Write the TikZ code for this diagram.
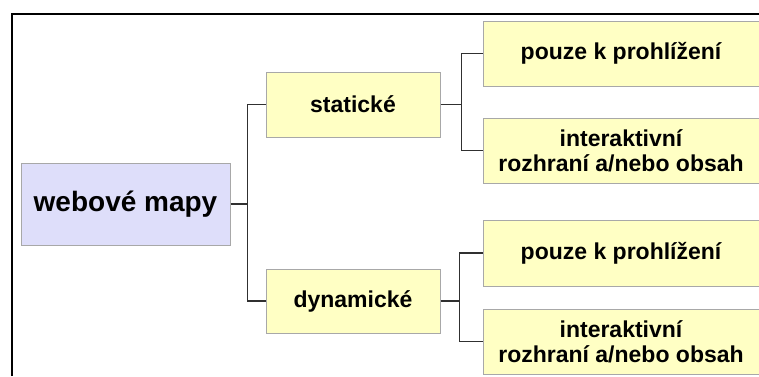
\documentclass[tikz,border=0pt]{standalone}
\usepackage{fontspec}
\setmainfont{Liberation Sans}
\begin{document}
\begin{tikzpicture}[x=1pt,y=-1pt,
  box/.style={draw=boxgray,line width=1pt,fill=yel,inner sep=0pt,font=\bfseries\fontsize{23}{25}\selectfont,align=center},
  conn/.style={draw=linegray,line width=1.3pt}]
\definecolor{yel}{HTML}{FFFFC4}
\definecolor{lav}{HTML}{DEDEFA}
\definecolor{boxgray}{HTML}{A8A8A8}
\definecolor{linegray}{HTML}{303030}
\useasboundingbox (0,0) rectangle (759,376);
\fill[white] (0,0) rectangle (759,376);
\draw[line width=2pt] (11.5,376) -- (11.5,13.5) -- (759,13.5);
\node[box,fill=lav,minimum width=209pt,minimum height=82pt,font=\bfseries\fontsize{28}{30}\selectfont] (root) at (125.5,204) {webové mapy};
\node[box,minimum width=174pt,minimum height=65pt] (st) at (353,104.5) {statické};
\node[box,minimum width=174pt,minimum height=64pt] (dy) at (353,301) {dynamické};
\node[box,minimum width=276pt,minimum height=65pt] (a1) at (621,53.5) {pouze k prohlížení};
\node[box,minimum width=276pt,minimum height=65pt] (a2) at (621,150.5) {interaktivní\\rozhraní a/nebo obsah};
\node[box,minimum width=276pt,minimum height=66pt] (b1) at (621,253) {pouze k prohlížení};
\node[box,minimum width=276pt,minimum height=65pt] (b2) at (621,341.5) {interaktivní\\rozhraní a/nebo obsah};
\draw[conn] (root.east) -- ++(17,0) coordinate (j0) |- (st.west);
\draw[conn] (j0) |- (dy.west);
\draw[conn] (st.east) -- ++(21,0) coordinate (j1) |- (a1.west);
\draw[conn] (j1) |- (a2.west);
\draw[conn] (dy.east) -- ++(19,0) coordinate (j2) |- (b1.west);
\draw[conn] (j2) |- (b2.west);
\end{tikzpicture}
\end{document}
